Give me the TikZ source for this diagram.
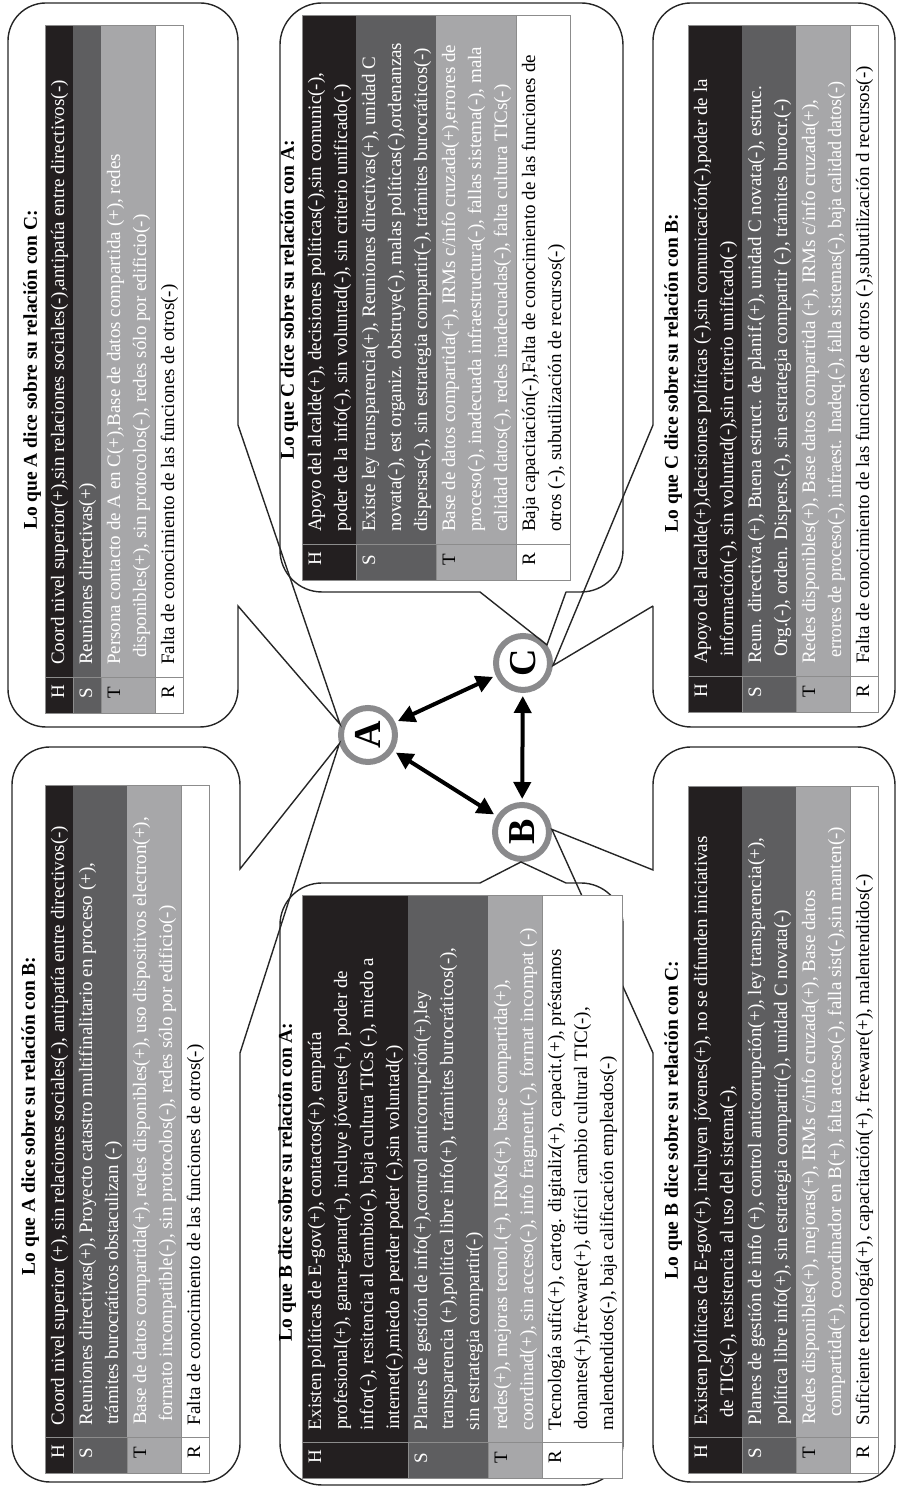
\documentclass[tikz,border=0pt]{standalone}
\usepackage{fontspec}
\setmainfont{Liberation Serif}
\usetikzlibrary{positioning,arrows.meta}

\definecolor{hfill}{HTML}{231F20}
\definecolor{sfill}{HTML}{5E5E60}
\definecolor{tfill}{HTML}{A7A7A9}
\definecolor{ringgray}{HTML}{8A8A8C}

% one row of an HSTR table: width, letter, lines
\newcommand{\hstrow}[3]{\makebox[#1][l]{\makebox[36pt][l]{\hspace{14pt}#2}\hspace{12pt}\begin{tabular}[t]{@{}l@{}}#3\end{tabular}}}

\begin{document}
\begin{tikzpicture}[x=1pt, y=1pt, rotate=90, transform shape,
  font=\fontsize{19}{26}\selectfont,
  cell/.style={inner xsep=0pt, inner ysep=1pt, outer sep=0pt, anchor=north west},
  hrow/.style={cell, fill=hfill, text=white},
  srow/.style={cell, fill=sfill, text=white},
  trow/.style={cell, fill=tfill, text=white},
  rrow/.style={cell, fill=white, text=black},
  grid/.style={draw=black!45, line width=0.8pt},
  bubble/.style={draw=black!85, line width=1.4pt},
  title/.style={font=\bfseries\fontsize{19.5}{26}\selectfont, inner sep=0pt, anchor=base},
  hub/.style={circle, draw=ringgray, line width=6pt, fill=white, minimum size=54pt,
              inner sep=0pt, font=\bfseries\fontsize{38}{38}\selectfont},
  link/.style={{Triangle[length=17pt,width=17pt]}-{Triangle[length=17pt,width=17pt]},
                line width=4pt, shorten <=3pt, shorten >=3pt}]

\useasboundingbox (0,0) rectangle (1490,897);

% the three units
\node[hub] (A) at (755,529) {A};
\node[hub] (B) at (658,375) {B};
\node[hub] (C) at (827,374) {C};

\draw[link] (A) -- (B);
\draw[link] (A) -- (C);
\draw[link] (C) -- (B);

% callouts
\draw[bubble] (437,657) -- (A.107) -- (621,657) [rounded corners=38pt] -- (743,657) -- (743,885) -- (8,885) -- (8,657) -- (437,657);
\draw[bubble] (1065,659) -- (A.69) -- (884,659) [rounded corners=38pt] -- (763,659) -- (763,889) -- (1487,889) -- (1487,659) -- (1065,659);
\draw[bubble] (898,331) -- (C.-53) -- (898,417) [rounded corners=42pt] -- (898,617) -- (1487,617) -- (1487,274) -- (898,274) -- (898,331);
\draw[bubble] (607,331) -- (B.178) -- (607,417) [rounded corners=42pt] -- (607,617) -- (5,617) -- (5,274) -- (607,274) -- (607,331);
\draw[bubble] (884,244) -- (C.-95) -- (1065,244) [rounded corners=38pt] -- (1487,244) -- (1487,2) -- (763,2) -- (763,244) -- (884,244);
\draw[bubble] (437,244) -- (B.-85) -- (620,244) [rounded corners=38pt] -- (743,244) -- (743,2) -- (8,2) -- (8,244) -- (437,244);

% A about B
\node[title] (abT) at (374,862) {Lo que A dice sobre su relación con B:};
\node[hrow] (abH) at (17,852) {\hstrow{688pt}{H}{Coord nivel superior (+), sin relaciones sociales(-), antipatía entre directivos(-)}};
\node[srow] (abS) at (abH.south west) {\hstrow{688pt}{S}{Reuniones directivas(+), Proyecto catastro multifinalitario en proceso (+),\\ trámites burocráticos obstaculizan (-)}};
\node[trow] (abT) at (abS.south west) {\hstrow{688pt}{\color{black}T}{Base de datos compartida(+), redes disponibles(+), uso dispositivos electron(+),\\ \hspace*{3pt}formato incompatible(-), sin protocolos(-), redes sólo por edificio(-)}};
\node[rrow] (abR) at (abT.south west) {\hstrow{688pt}{R}{Falta de conocimiento de las funciones de otros(-)}};

% A about C
\node[title] (acT) at (1120,860) {Lo que A dice sobre su relación con C:};
\node[hrow] (acH) at (777,852) {\hstrow{688pt}{H}{Coord nivel superior(+),sin relaciones sociales(-),antipatía entre directivos(-)}};
\node[srow] (acS) at (acH.south west) {\hstrow{688pt}{S}{Reuniones directivas(+)}};
\node[trow] (acT) at (acS.south west) {\hstrow{688pt}{\color{black}T}{Persona contacto de A en C(+),Base de datos compartida (+), redes\\ \hspace*{7pt}disponibles(+), sin protocolos(-), redes sólo por edificio(-)}};
\node[rrow] (acR) at (acT.south west) {\hstrow{688pt}{R}{Falta de conocimiento de las funciones de otros(-)}};

% C about A
\node[title] (caT) at (1190,603) {Lo que C dice sobre su relación con A:};
\node[hrow] (caH) at (910,595) {\hstrow{565pt}{H}{Apoyo del alcalde(+), decisiones políticas(-),sin comunic(-),\\ poder de la info(-), sin voluntad(-), sin criterio unificado(-)}};
\node[srow] (caS) at (caH.south west) {\hstrow{565pt}{S}{Existe ley transparencia(+), Reuniones directivas(+), unidad C\\ novata(-), est organiz. obstruye(-), malas políticas(-),ordenanzas\\ dispersas(-), sin estrategia compartir(-), trámites burocráticos(-)}};
\node[trow] (caT) at (caS.south west) {\hstrow{565pt}{\color{black}T}{Base de datos compartida(+), IRMs c/info cruzada(+),errores de\\ proceso(-), inadecuada infraestructura(-), fallas sistema(-), mala\\ calidad datos(-), redes inadecuadas(-), falta cultura TICs(-)}};
\node[rrow] (caR) at (caT.south west) {\hstrow{565pt}{R}{Baja capacitación(-),Falta de conocimiento de las funciones de\\ otros (-), subutilización de recursos(-)}};

% B about A
\node[title] (baT) at (308,605) {Lo que B dice sobre su relación con A:};
\node[hrow] (baH) at (12,595) {\hstrow{583pt}{H}{Existen políticas de E-gov(+), contactos(+), empatía\\ profesional(+), ganar-ganar(+), incluye jóvenes(+), poder de\\ infor(-), resitencia al cambio(-), baja cultura TICs (-), miedo a\\ internet(-),miedo a perder poder (-),sin voluntad(-)}};
\node[srow] (baS) at (baH.south west) {\hstrow{583pt}{S}{Planes de gestión de info(+),control anticorrupción(+),ley\\ transparencia (+),política libre info(+), trámites burocráticos(-),\\ sin estrategia compartir(-)}};
\node[trow] (baT) at (baS.south west) {\hstrow{583pt}{\color{black}T}{redes(+), mejoras tecnol.(+), IRMs(+), base compartida(+),\\ coordinad(+), sin acceso(-), info fragment.(-), format incompat (-)}};
\node[rrow] (baR) at (baT.south west) {\hstrow{583pt}{R}{Tecnología sufic(+), cartog. digitaliz(+), capacit.(+), préstamos\\ donantes(+),freeware(+), difícil cambio cultural TIC(-),\\ malendendidos(-), baja calificación empleados(-)}};

% C about B
\node[title] (cbT) at (1117,219) {Lo que C dice sobre su relación con B:};
\node[hrow] (cbH) at (778,209) {\hstrow{687pt}{H}{Apoyo del alcalde(+),decisiones políticas (-),sin comunicación(-),poder de la\\ \hspace*{7pt}información(-), sin voluntad(-),sin criterio unificado(-)}};
\node[srow] (cbS) at (cbH.south west) {\hstrow{687pt}{S}{Reun. directiva.(+), Buena estruct. de planif.(+), unidad C novata(-), estruc.\\ \hspace*{7pt}Org.(-), orden. Dispers.(-), sin estrategia compartir (-), trámites burocr.(-)}};
\node[trow] (cbT) at (cbS.south west) {\hstrow{687pt}{\color{black}T}{Redes disponibles(+), Base datos compartida (+), IRMs c/info cruzada(+),\\ \hspace*{6pt}\scalebox{0.95}[1]{errores de proceso(-), infraest. Inadeq.(-), falla sistemas(-), baja calidad datos(-)}}};
\node[rrow] (cbR) at (cbT.south west) {\hstrow{687pt}{R}{Falta de conocimiento de las funciones de otros (-),subutilización d recursos(-)}};

% B about C
\node[title] (bcT) at (370,219) {Lo que B dice sobre su relación con C:};
\node[hrow] (bcH) at (17,209) {\hstrow{687pt}{H}{Existen políticas de E-gov(+), incluyen jóvenes(+), no se difunden iniciativas\\ \hspace*{7pt}de TICs(-), resistencia al uso del sistema(-),}};
\node[srow] (bcS) at (bcH.south west) {\hstrow{687pt}{S}{Planes de gestión de info (+), control anticorrupción(+), ley transparencia(+),\\ política libre info(+), sin estrategia compartir(-), unidad C novata(-)}};
\node[trow] (bcT) at (bcS.south west) {\hstrow{687pt}{\color{black}T}{Redes disponibles(+), mejoras(+), IRMs c/info cruzada(+), Base datos\\ \hspace*{8pt}compartida(+), coordinador en B(+), falta acceso(-), falla sist(-),sin manten(-)}};
\node[rrow] (bcR) at (bcT.south west) {\hstrow{687pt}{R}{Suficiente tecnología(+), capacitación(+), freeware(+), malentendidos(-)}};

% table lines
\foreach \p in {ab,ac,ca,ba,cb,bc}{
  \draw[grid] (\p H.north west) rectangle (\p R.south east);
  \draw[grid] ([xshift=36pt]\p H.north west) -- ([xshift=36pt]\p R.south west);
  \draw[grid] (\p R.north west) -- (\p R.north east);
  \foreach \r in {S,T} \draw[grid] (\p\r.north west) -- ++(36,0);
}

\end{tikzpicture}
\end{document}
